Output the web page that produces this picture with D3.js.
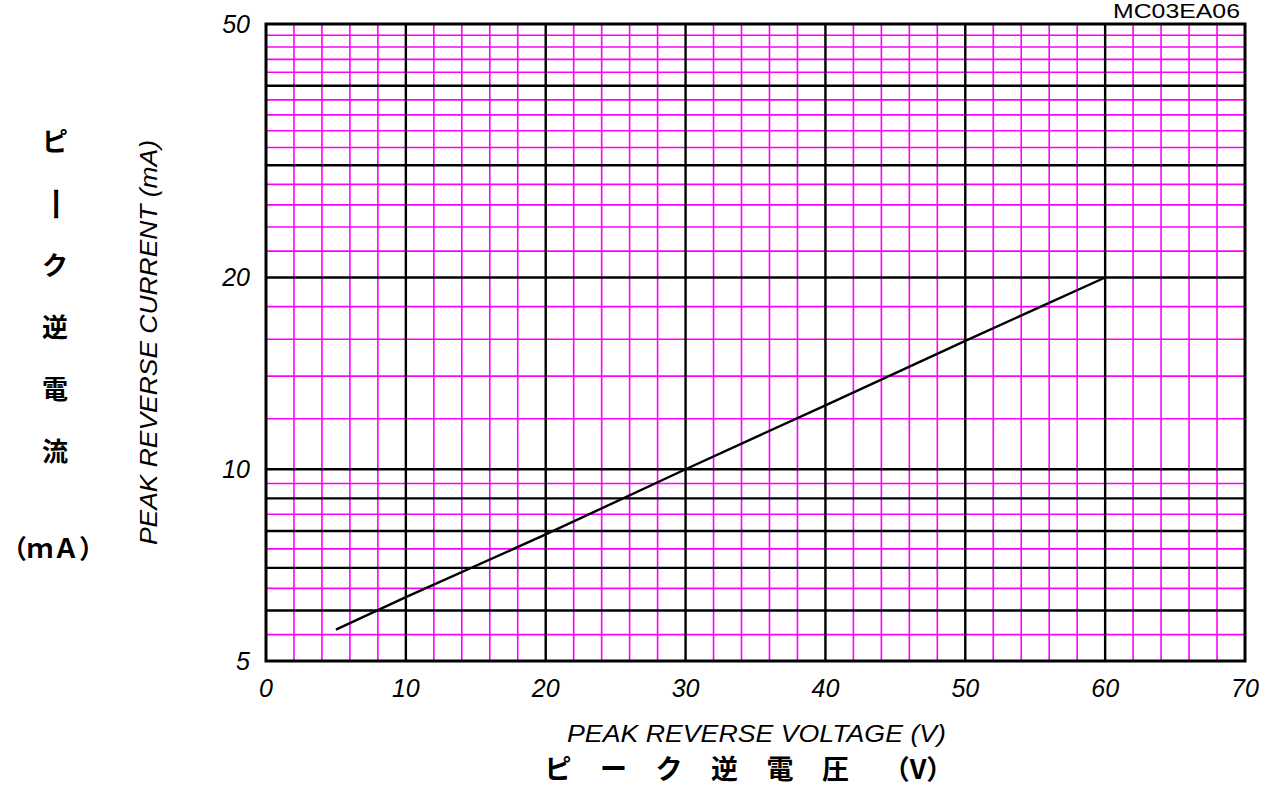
<!DOCTYPE html>
<html>
<head>
<meta charset="utf-8">
<script src="https://cdnjs.cloudflare.com/ajax/libs/d3/7.8.5/d3.min.js"></script>
<style>
  body { margin: 0; background: white; }
  text { font-family: "Liberation Sans", Arial, sans-serif; }
</style>
</head>
<body>
<svg></svg>
<script>

// data
var voltage = [5, 10, 20, 30, 40, 50, 60];
var current = [5.6, 6.3, 7.9, 10, 12.6, 15.9, 20];

var xTicks = [0, 10, 20, 30, 40, 50, 60, 70];
var xMinor = [2, 4, 6, 8, 12, 14, 16, 18, 22, 24, 26, 28, 32, 34, 36, 38, 42, 44, 46, 48, 52, 54, 56, 58, 62, 64, 66, 68];
var yTicks = [5, 10, 20, 50];
var yMajor = [6, 7, 8, 9, 10, 20, 30, 40];
var yMinor = [5.5, 6.5, 7.5, 8.5, 9.5, 12, 14, 16, 18, 22, 24, 26, 28, 32, 34, 36, 38, 42, 44, 46, 48];

var xTitle = "PEAK REVERSE VOLTAGE (V)";
var yTitle = "PEAK REVERSE CURRENT (mA)";
var xTitleJa = ["ピ", "ー", "ク", "逆", "電", "圧", "（V）"];
var yTitleJa = ["ピ", "ー", "ク", "逆", "電", "流"];
var yUnitJa = "（ｍＡ）";
var code = "MC03EA06";

var width = 1261, height = 786;
var pLeft = 266, pRight = 1245, pTop = 24, pBottom = 661;

var svg = d3.select('svg')
    .attr('width', width)
    .attr("height", height);

var xScale = d3.scaleLinear()
    .domain([0, 70])
    .range([pLeft, pRight]);

var yScale = d3.scaleLog()
    .domain([5, 50])
    .range([pBottom, pTop]);

// magenta minor grid
svg.append("g").selectAll("line")
    .data(xMinor)
    .enter().append("line")
    .attr("x1", d => xScale(d)).attr("x2", d => xScale(d))
    .attr("y1", pTop).attr("y2", pBottom)
    .style("stroke", "#ff00ff")
    .style("stroke-width", 1.6);

svg.append("g").selectAll("line")
    .data(yMinor)
    .enter().append("line")
    .attr("x1", pLeft).attr("x2", pRight)
    .attr("y1", d => yScale(d)).attr("y2", d => yScale(d))
    .style("stroke", "#ff00ff")
    .style("stroke-width", 1.6);

// black major grid
svg.append("g").selectAll("line")
    .data(xTicks.slice(1, -1))
    .enter().append("line")
    .attr("x1", d => xScale(d)).attr("x2", d => xScale(d))
    .attr("y1", pTop).attr("y2", pBottom)
    .style("stroke", "black")
    .style("stroke-width", 2.4);

svg.append("g").selectAll("line")
    .data(yMajor)
    .enter().append("line")
    .attr("x1", pLeft).attr("x2", pRight)
    .attr("y1", d => yScale(d)).attr("y2", d => yScale(d))
    .style("stroke", "black")
    .style("stroke-width", 2.4);

// frame
svg.append("rect")
    .attr("x", pLeft).attr("y", pTop)
    .attr("width", pRight - pLeft).attr("height", pBottom - pTop)
    .attr("fill", "none")
    .style("stroke", "black")
    .style("stroke-width", 3);

// the curve
var line = d3.line()
    .x((d, i) => xScale(voltage[i]))
    .y(d => yScale(d));

svg.append("path")
    .datum(current)
    .attr("d", line)
    .attr("fill", "none")
    .style("stroke", "black")
    .style("stroke-width", 2.4);

// tick labels
svg.append("g").selectAll("text")
    .data(xTicks)
    .enter().append("text")
    .attr("x", d => xScale(d))
    .attr("y", pBottom + 36)
    .attr("text-anchor", "middle")
    .style("font-size", "25px")
    .style("font-style", "italic")
    .text(d => d);

svg.append("g").selectAll("text")
    .data(yTicks)
    .enter().append("text")
    .attr("x", pLeft - 16)
    .attr("y", d => yScale(d) + 9)
    .attr("text-anchor", "end")
    .style("font-size", "25px")
    .style("font-style", "italic")
    .text(d => d);

// titles
svg.append("text")
    .attr("x", 567)
    .attr("y", 742)
    .attr("textLength", 379)
    .attr("lengthAdjust", "spacingAndGlyphs")
    .style("font-size", "24px")
    .style("font-style", "italic")
    .text(xTitle);

svg.append("text")
    .attr("transform", "translate(157, 545) rotate(-90)")
    .attr("textLength", 405)
    .attr("lengthAdjust", "spacingAndGlyphs")
    .style("font-size", "24px")
    .style("font-style", "italic")
    .text(yTitle);

svg.append("g").selectAll("text")
    .data(xTitleJa)
    .enter().append("text")
    .attr("x", (d, i) => i < 6 ? 558 + i * 55.5 : 918)
    .attr("y", 779)
    .attr("text-anchor", "middle")
    .style("font-family", "'Noto Sans CJK JP', sans-serif")
    .style("font-weight", "bold")
    .style("font-size", "27px")
    .text(d => d);

// vertical column: the long-vowel mark is turned upright
svg.append("g").selectAll("text")
    .data(yTitleJa)
    .enter().append("text")
    .attr("transform", (d, i) => "translate(55," + (142 + i * 62) + ")" + (d === "ー" ? " rotate(90) scale(1.35,1)" : ""))
    .attr("dy", "0.36em")
    .attr("text-anchor", "middle")
    .style("font-family", "'Noto Sans CJK JP', sans-serif")
    .style("font-weight", "bold")
    .style("font-size", "26px")
    .text(d => d);

svg.append("text")
    .attr("x", 53)
    .attr("y", 558)
    .attr("text-anchor", "middle")
    .style("font-family", "'Noto Sans CJK JP', sans-serif")
    .style("font-weight", "bold")
    .style("font-size", "26px")
    .text(yUnitJa);

svg.append("text")
    .attr("x", 1113)
    .attr("y", 18)
    .attr("textLength", 127)
    .attr("lengthAdjust", "spacingAndGlyphs")
    .style("font-size", "21px")
    .text(code);

</script>
</body>
</html>
